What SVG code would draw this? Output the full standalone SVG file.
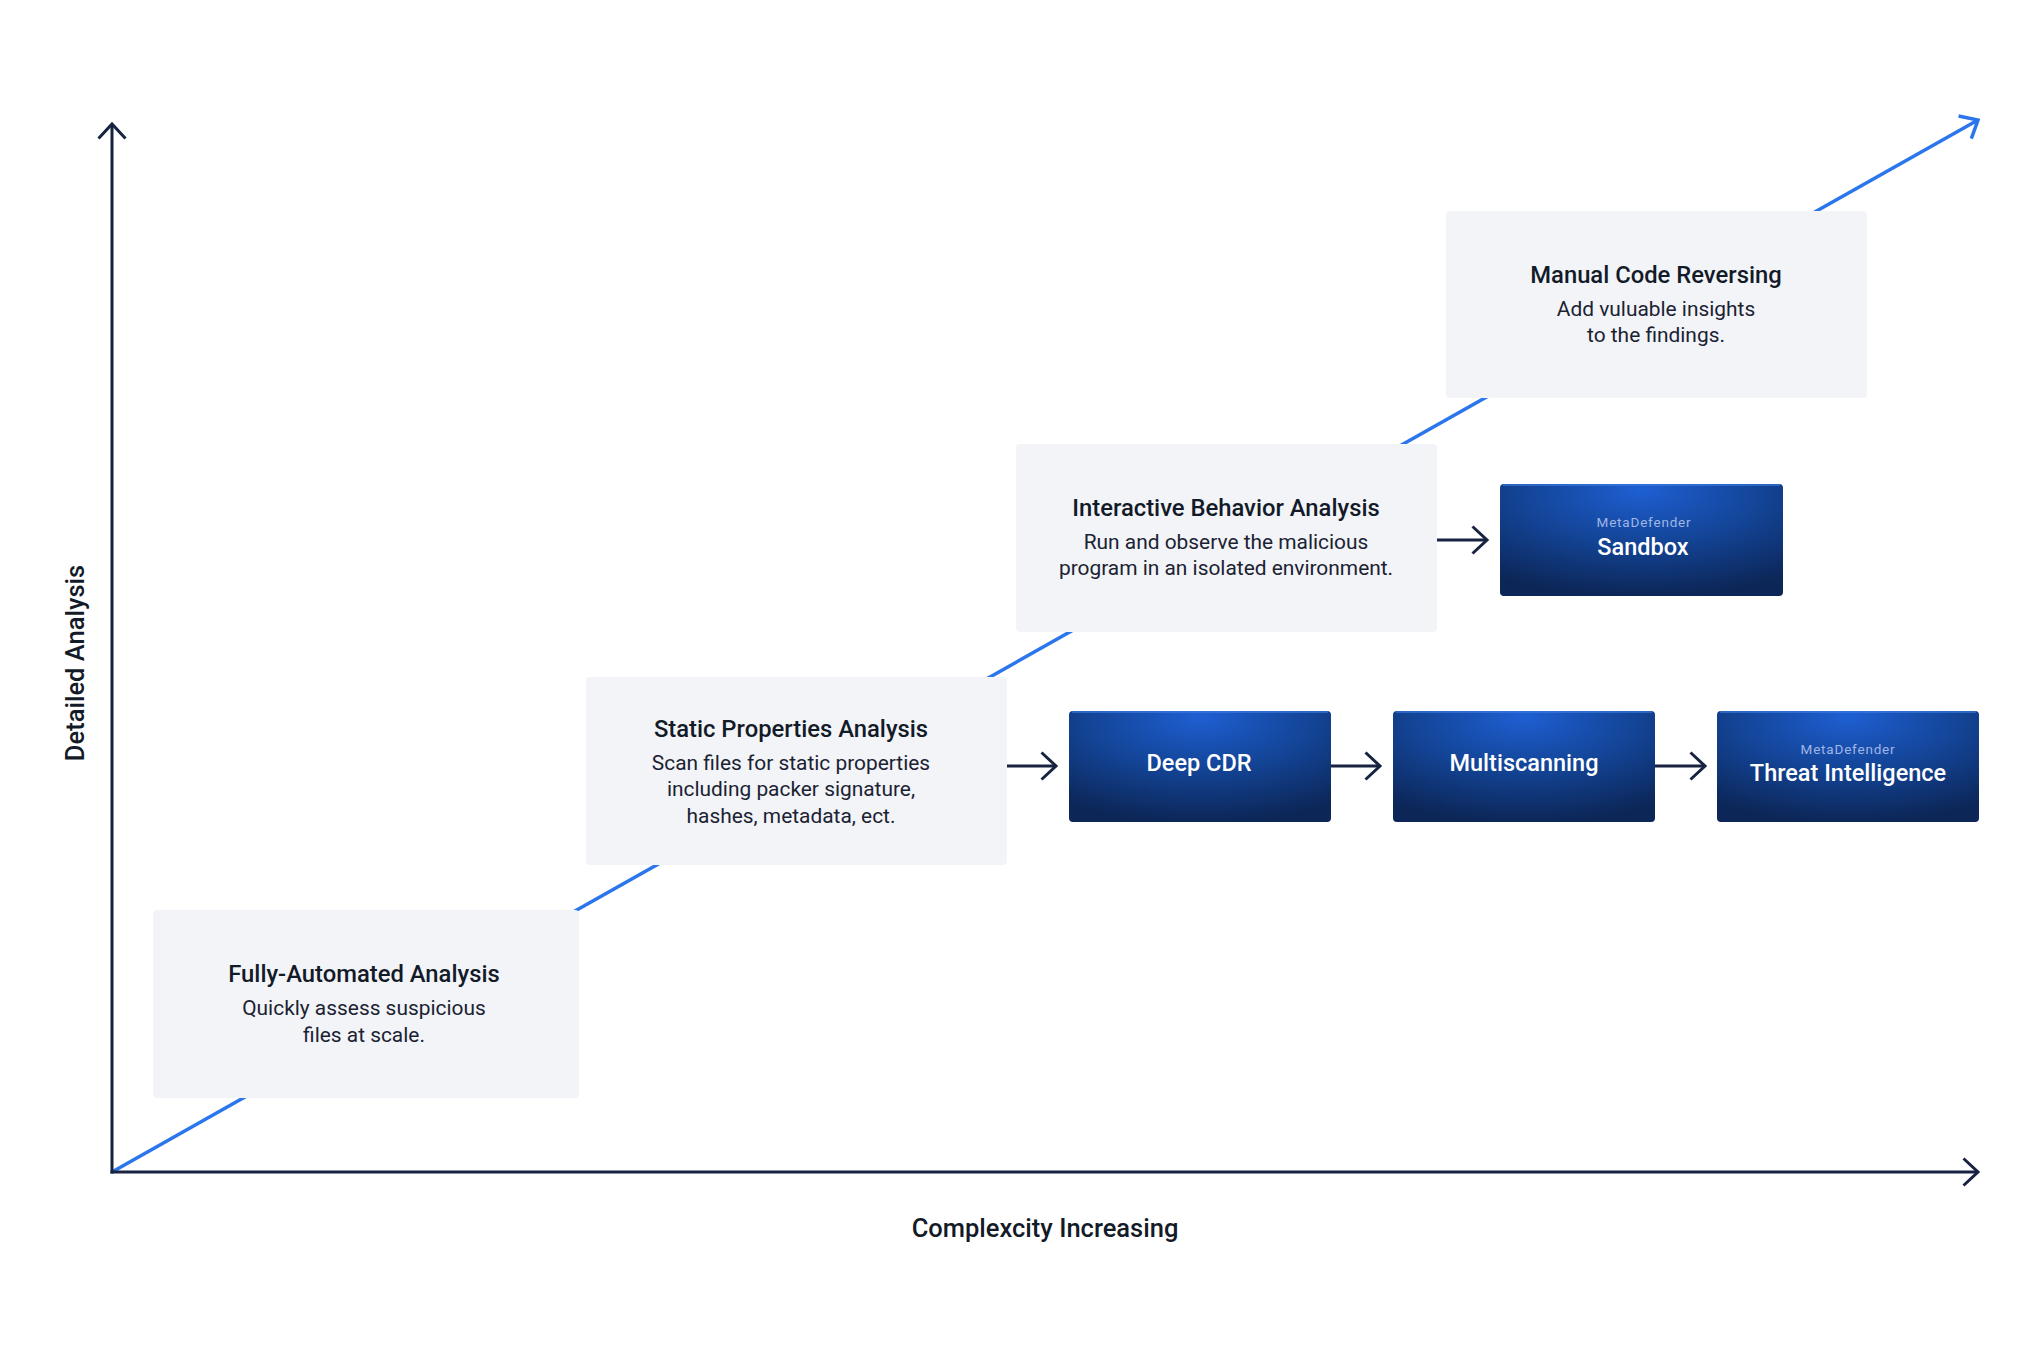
<svg xmlns="http://www.w3.org/2000/svg" width="2042" height="1361" viewBox="0 0 2042 1361">
<defs>
<style>
.card{fill:#f2f4f8}
.prod{fill:url(#pg)}
.hl{stroke:#3d7fe6;stroke-width:1.5;fill:none;opacity:.8}
.t{font-family:Roboto,"Liberation Sans",sans-serif;font-weight:500;font-size:23.8px;fill:#131a28;text-anchor:middle}
.b{font-family:Roboto,"Liberation Sans",sans-serif;font-weight:400;font-size:20.9px;fill:#1b2232;text-anchor:middle}
.pt{font-family:Roboto,"Liberation Sans",sans-serif;font-weight:500;font-size:23.5px;fill:#ffffff;text-anchor:middle}
.ps{font-family:Roboto,"Liberation Sans",sans-serif;font-weight:400;font-size:13.5px;letter-spacing:.8px;fill:#9fb6e6;text-anchor:middle}
.ax{font-family:Roboto,"Liberation Sans",sans-serif;font-weight:500;font-size:25.5px;fill:#131a28;text-anchor:middle}
.axis{stroke:#172340;stroke-width:3;fill:none}
.diag{stroke:#2b76ec;stroke-width:3.5;fill:none}
.step{stroke:#172340;stroke-width:3;fill:none}
</style>
<radialGradient id="pg" cx="0.5" cy="0.15" r="0.85" fx="0.5" fy="0.05">
<stop offset="0" stop-color="#1e5fd2"/>
<stop offset="0.5" stop-color="#134496"/>
<stop offset="1" stop-color="#0c2657"/>
</radialGradient>
<marker id="mn" markerUnits="userSpaceOnUse" viewBox="-20 -20 24 40" refX="0" refY="0" markerWidth="24" markerHeight="40" orient="auto" overflow="visible">
<path d="M-14.5,-13.5 L0,0 L-14.5,13.5" fill="none" stroke="#172340" stroke-width="3"/>
</marker>
<marker id="mb" markerUnits="userSpaceOnUse" viewBox="-20 -20 24 40" refX="0" refY="0" markerWidth="24" markerHeight="40" orient="auto" overflow="visible">
<path d="M-15,-13 L0,0 L-15,13" fill="none" stroke="#2b76ec" stroke-width="3.5"/>
</marker>
</defs>
<rect width="2042" height="1361" fill="#ffffff"/>
<g id="connectors">
<line class="diag" x1="112" y1="1172" x2="1978" y2="120" marker-end="url(#mb)"/>
<line class="axis" x1="112" y1="1173.5" x2="112" y2="124" marker-end="url(#mn)"/>
<line class="axis" x1="110.5" y1="1172" x2="1978" y2="1172" marker-end="url(#mn)"/>
<line class="step" x1="1007" y1="766" x2="1056" y2="766" marker-end="url(#mn)"/>
<line class="step" x1="1331" y1="766" x2="1380" y2="766" marker-end="url(#mn)"/>
<line class="step" x1="1655" y1="766" x2="1705" y2="766" marker-end="url(#mn)"/>
<line class="step" x1="1437" y1="540" x2="1487" y2="540" marker-end="url(#mn)"/>
</g>
<g id="node-fully-automated">
<rect class="card" x="153" y="910" width="426" height="188" rx="4"/>
<text class="t" x="364" y="982">Fully-Automated Analysis</text>
<text class="b" x="364" y="1015">Quickly assess suspicious</text>
<text class="b" x="364" y="1042">files at scale.</text>
</g>
<g id="node-static">
<rect class="card" x="586" y="677" width="421" height="188" rx="4"/>
<text class="t" x="791" y="737">Static Properties Analysis</text>
<text class="b" x="791" y="770">Scan files for static properties</text>
<text class="b" x="791" y="796">including packer signature,</text>
<text class="b" x="791" y="823">hashes, metadata, ect.</text>
</g>
<g id="node-interactive">
<rect class="card" x="1016" y="444" width="421" height="188" rx="4"/>
<text class="t" x="1226" y="516">Interactive Behavior Analysis</text>
<text class="b" x="1226" y="549">Run and observe the malicious</text>
<text class="b" x="1226" y="575">program in an isolated environment.</text>
</g>
<g id="node-manual">
<rect class="card" x="1446" y="211" width="421" height="187" rx="4"/>
<text class="t" x="1656" y="283">Manual Code Reversing</text>
<text class="b" x="1656" y="316">Add vuluable insights</text>
<text class="b" x="1656" y="342">to the findings.</text>
</g>
<g id="node-sandbox">
<rect class="prod" x="1500" y="484" width="283" height="112" rx="4"/>
<path class="hl" d="M1503,485 H1780"/>
<text class="ps" x="1644" y="527">MetaDefender</text>
<text class="pt" x="1643" y="555">Sandbox</text>
</g>
<g id="node-deep-cdr">
<rect class="prod" x="1069" y="711" width="262" height="111" rx="4"/>
<path class="hl" d="M1072,712 H1328"/>
<text class="pt" x="1199" y="771">Deep CDR</text>
</g>
<g id="node-multiscanning">
<rect class="prod" x="1393" y="711" width="262" height="111" rx="4"/>
<path class="hl" d="M1396,712 H1652"/>
<text class="pt" x="1524" y="771">Multiscanning</text>
</g>
<g id="node-threat-intelligence">
<rect class="prod" x="1717" y="711" width="262" height="111" rx="4"/>
<path class="hl" d="M1720,712 H1976"/>
<text class="ps" x="1848" y="754">MetaDefender</text>
<text class="pt" x="1848" y="781">Threat Intelligence</text>
</g>
<g id="axis-labels">
<text class="ax" x="1045" y="1237">Complexcity Increasing</text>
<text class="ax" transform="translate(84,663) rotate(-90)" x="0" y="0">Detailed Analysis</text>
</g>
</svg>
